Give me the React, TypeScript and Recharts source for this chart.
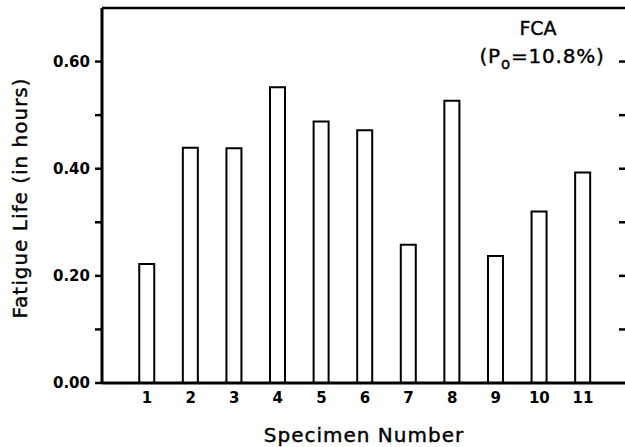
import { Bar, ComposedChart, Line, ReferenceLine, XAxis, YAxis } from "recharts";

const specimens = ["1", "2", "3", "4", "5", "6", "7", "8", "9", "10", "11"];
const fatigueLife = [0.222, 0.439, 0.438, 0.552, 0.488, 0.472, 0.258, 0.527, 0.237, 0.32, 0.393];
const leftTicks = [0, 0.1, 0.2, 0.3, 0.4, 0.5, 0.6];
const rightTicks = [0.1, 0.2, 0.3, 0.4, 0.5, 0.6];

const data = specimens.map((name, i) => ({ name, life: fatigueLife[i] }));

const FONT = "'DejaVu Sans', sans-serif";

// only label every other tick (0.00, 0.20, ...)
const LeftTick = (props: any) => {
	const { x, y, payload } = props;
	const v = payload.value as number;
	if (Math.round(v * 10) % 2 !== 0) return <g />;
	return (
		<text
			x={x}
			y={y}
			textAnchor="end"
			dominantBaseline="central"
			fontFamily={FONT}
			fontWeight="bold"
			fontSize={15}
			fill="#000"
		>
			{v.toFixed(2)}
		</text>
	);
};

const NoLabel = () => <g />;

export default function App() {
	return (
		<div style={{ position: "absolute", left: 0, top: 0, fontFamily: FONT }}>
			<ComposedChart
				width={640}
				height={447}
				data={data}
				margin={{ top: 8, right: 13, bottom: 0, left: 0 }}
				barCategoryGap={0}
			>
				<XAxis
					dataKey="name"
					height={64}
					padding={{ left: 23.25, right: 22.25 }}
					tickLine={false}
					tickSize={4}
					tickMargin={5}
					axisLine={{ stroke: "#000", strokeWidth: 3 }}
					tick={{ fill: "#000", fontSize: 15, fontWeight: "bold", fontFamily: FONT }}
				/>
				<YAxis
					yAxisId="left"
					width={102}
					domain={[0, 0.7]}
					ticks={leftTicks}
					interval={0}
					tickSize={7}
					tickMargin={5}
					tickLine={{ stroke: "#000", strokeWidth: 2.5 }}
					axisLine={{ stroke: "#000", strokeWidth: 3 }}
					tick={<LeftTick />}
				/>
				<YAxis
					yAxisId="right"
					orientation="right"
					width={1}
					domain={[0, 0.7]}
					ticks={rightTicks}
					interval={0}
					mirror
					tick={<NoLabel />}
					tickSize={8}
					tickLine={{ stroke: "#000", strokeWidth: 2.5 }}
					axisLine={{ stroke: "#000", strokeWidth: 3 }}
				/>
				<ReferenceLine yAxisId="left" y={0.7} stroke="#000" strokeWidth={2.5} />
				<Bar
					yAxisId="left"
					dataKey="life"
					barSize={15}
					fill="#fff"
					stroke="#000"
					strokeWidth={2}
					isAnimationActive={false}
				/>
				{/* invisible series so the right-hand axis gets a scale and draws its ticks */}
				<Line
					yAxisId="right"
					dataKey="life"
					stroke="none"
					dot={false}
					activeDot={false}
					legendType="none"
					isAnimationActive={false}
				/>
				<text
					x={20}
					y={198}
					transform="rotate(-90 20 198)"
					textAnchor="middle"
					dominantBaseline="central"
					fontFamily={FONT}
					fontSize={20}
					letterSpacing={1}
					stroke="#000"
					strokeWidth={0.4}
					fill="#000"
				>
					Fatigue Life (in hours)
				</text>
				<text
					x={364}
					y={442}
					textAnchor="middle"
					fontFamily={FONT}
					fontSize={20}
					letterSpacing={1}
					stroke="#000"
					strokeWidth={0.4}
					fill="#000"
				>
					Specimen Number
				</text>
				<text
					x={538}
					y={35}
					textAnchor="middle"
					fontFamily={FONT}
					fontSize={19}
					stroke="#000"
					strokeWidth={0.4}
					fill="#000"
				>
					FCA
				</text>
				<text
					x={542}
					y={63}
					textAnchor="middle"
					fontFamily={FONT}
					fontSize={20}
					letterSpacing={0.8}
					stroke="#000"
					strokeWidth={0.4}
					fill="#000"
				>
					(P
					<tspan fontSize={15} dy={6}>o</tspan>
					<tspan dy={-6}>=10.8%)</tspan>
				</text>
			</ComposedChart>
		</div>
	);
}
